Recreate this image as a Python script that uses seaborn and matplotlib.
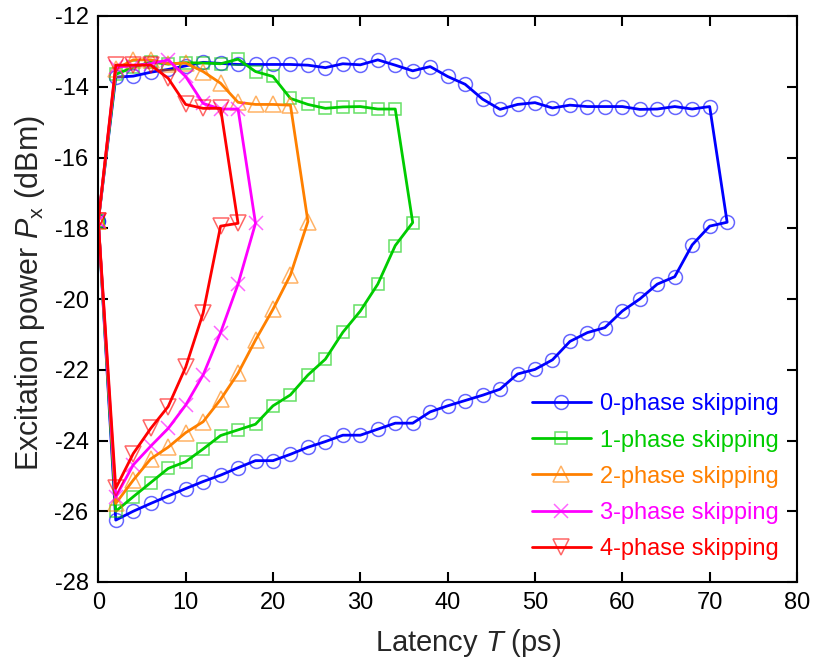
import numpy as np
import pandas as pd
import matplotlib
matplotlib.use("Agg")
import matplotlib.pyplot as plt
from matplotlib.colors import to_rgba
import seaborn as sns

# Common starting point of every loop (T = 0 ps)
start_T = 0
start_P = -17.8

# 0-phase skipping
t0_low = list(range(2, 73, 2))
p0_low = [-26.25, -26.0, -25.78, -25.57, -25.36, -25.16, -24.98, -24.77, -24.57, -24.57,
          -24.39, -24.19, -24.03, -23.85, -23.85, -23.68, -23.51, -23.51, -23.19, -23.02,
          -22.87, -22.72, -22.55, -22.12, -21.99, -21.72, -21.2, -20.95, -20.81, -20.34,
          -20.0, -19.58, -19.37, -18.47, -17.94, -17.83]
t0_up = list(range(2, 71, 2))
p0_up = [-13.73, -13.70, -13.59, -13.51, -13.41, -13.31, -13.34, -13.37, -13.37, -13.37,
         -13.37, -13.39, -13.46, -13.35, -13.38, -13.24, -13.39, -13.55, -13.43, -13.71,
         -13.93, -14.35, -14.64, -14.50, -14.45, -14.60, -14.52, -14.56, -14.56, -14.56,
         -14.64, -14.63, -14.56, -14.63, -14.56]

# 1-phase skipping
t1_low = list(range(2, 37, 2))
p1_low = [-26.0, -25.59, -25.19, -24.79, -24.6, -24.24, -23.86, -23.70, -23.54, -23.02,
          -22.71, -22.15, -21.7, -20.94, -20.34, -19.58, -18.49, -17.84]
t1_up = list(range(2, 35, 2))
p1_up = [-13.65, -13.45, -13.3, -13.36, -13.32, -13.33, -13.35, -13.22, -13.57, -13.71,
         -14.33, -14.5, -14.61, -14.57, -14.56, -14.63, -14.63]

# 2-phase skipping
t2_low = list(range(2, 25, 2))
p2_low = [-25.78, -25.12, -24.52, -24.19, -23.78, -23.47, -22.84, -22.1, -21.16, -20.29,
          -19.32, -17.81]
t2_up = list(range(2, 23, 2))
p2_up = [-13.5, -13.24, -13.24, -13.35, -13.33, -13.57, -13.9, -14.44, -14.5, -14.5, -14.52]

# 3-phase skipping
t3_low = list(range(2, 19, 2))
p3_low = [-25.59, -24.69, -24.16, -23.66, -23.0, -22.15, -20.95, -19.58, -17.86]
t3_up = list(range(2, 17, 2))
p3_up = [-13.45, -13.4, -13.35, -13.24, -13.71, -14.47, -14.63, -14.63]

# 4-phase skipping
t4_low = list(range(2, 17, 2))
p4_low = [-25.35, -24.37, -23.66, -23.04, -21.93, -20.4, -17.94, -17.86]
t4_up = list(range(2, 15, 2))
p4_up = [-13.39, -13.39, -13.39, -13.76, -14.5, -14.61, -14.61]

labels = ["0-phase skipping", "1-phase skipping", "2-phase skipping",
          "3-phase skipping", "4-phase skipping"]
colors = ["#0000FF", "#00CC00", "#FF8000", "#FF00FF", "#FF0000"]
markers = ["o", "s", "^", "x", "v"]
marker_sizes = [10, 9, 11.5, 10, 11.5]

branches = [(t0_low, p0_low, t0_up, p0_up),
            (t1_low, p1_low, t1_up, p1_up),
            (t2_low, p2_low, t2_up, p2_up),
            (t3_low, p3_low, t3_up, p3_up),
            (t4_low, p4_low, t4_up, p4_up)]

# Each hysteresis loop: start -> lower branch (increasing T) -> upper branch (decreasing T) -> start
frames = []
for name, (tl, pl, tu, pu) in zip(labels, branches):
    T = [start_T] + tl + tu[::-1] + [start_T]
    P = [start_P] + pl + pu[::-1] + [start_P]
    frames.append(pd.DataFrame({"T": T, "P": P, "series": name, "step": range(len(T))}))
df = pd.concat(frames, ignore_index=True)

sns.set_theme(style="ticks")
plt.rcParams["font.family"] = ["Liberation Sans", "DejaVu Sans"]
plt.rcParams["mathtext.fontset"] = "custom"
plt.rcParams["mathtext.rm"] = "Liberation Sans"
plt.rcParams["mathtext.it"] = "Liberation Sans:italic"
plt.rcParams["axes.unicode_minus"] = False

fig = plt.figure(figsize=(8.16, 6.68), dpi=100)
ax = fig.add_axes([98.3 / 816, 1 - 582 / 668, (797 - 98.3) / 816, (582 - 16) / 668])

for name, c, m, ms in zip(labels, colors, markers, marker_sizes):
    sub = df[df["series"] == name]
    sns.lineplot(data=sub, x="T", y="P", sort=False, estimator=None, ax=ax,
                 color=c, linewidth=2.0, marker=m, markersize=ms,
                 markerfacecolor="none", markeredgecolor=to_rgba(c, 0.6),
                 markeredgewidth=1.1, label=name)

ax.set_xlim(0, 80)
ax.set_ylim(-28, -12)
ax.set_xticks(np.arange(0, 81, 10))
ax.set_yticks(np.arange(-28, -11, 2))
ax.set_xlabel(r"Latency $\mathit{T}$ (ps)", fontsize=21)
ax.set_ylabel(r"Excitation power $\mathit{P}_{\mathrm{x}}$ (dBm)", fontsize=22)
ax.xaxis.set_label_coords(0.53, -0.08)
ax.yaxis.set_label_coords(-0.074, 0.51)

ax.tick_params(direction="in", top=True, right=True, length=7, width=1.5,
               labelsize=17, pad=7, color="black", labelcolor="black")
for sp in ax.spines.values():
    sp.set_linewidth(1.5)
    sp.set_color("black")

handles, labs = ax.get_legend_handles_labels()
leg = ax.legend(handles, labs, loc="center", bbox_to_anchor=(0.797, 0.186),
                frameon=False, fontsize=17, handlelength=2.5, handletextpad=0.4,
                labelspacing=0.6, labelcolor="linecolor")

fig.savefig("out.png", dpi=100)
